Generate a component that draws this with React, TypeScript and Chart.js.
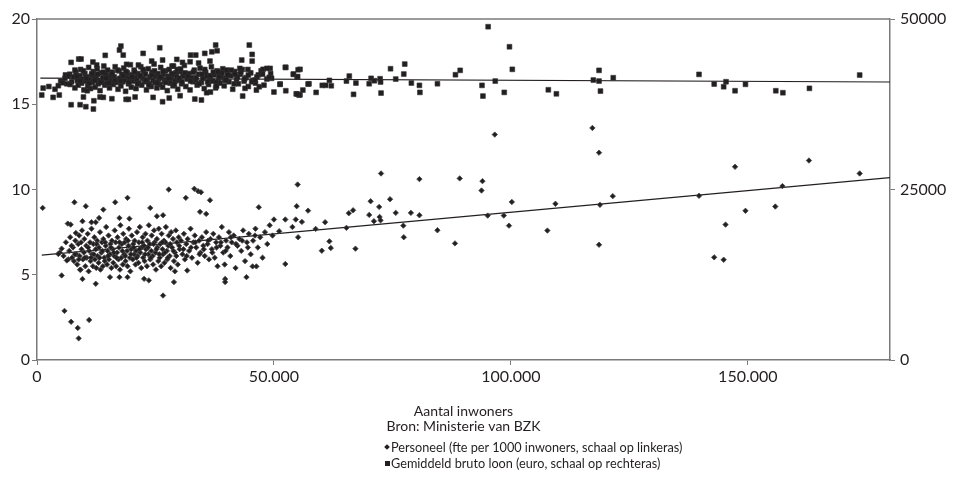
import React, { useEffect, useRef } from 'react';
import { Chart, registerables } from 'chart.js';

Chart.register(...registerables);

const FONT = 'Lato, "Open Sans", sans-serif';
const INK = '#231f20';
const AXIS = '#7a7a7a';

// Personeel (fte per 1000 inwoners) — left axis
const personeelSparse: [number, number][] = [
  [1200, 8.92], [4500, 6.22], [5200, 6.53], [5200, 4.96], [5800, 2.88], [6300, 5.84], [6500, 8.0], [7100, 7.94],
  [7200, 2.24], [7900, 9.25], [8200, 7.45], [8600, 1.88], [8800, 1.27], [10300, 9.02], [11000, 2.35], [9600, 8.14],
  [9600, 4.75], [9100, 5.29], [12400, 4.47], [11500, 8.08], [12400, 8.08], [13100, 8.33], [14000, 8.82], [16500, 9.25],
  [19100, 9.51], [17400, 8.33], [15400, 4.86], [17400, 4.86], [19100, 4.86], [19500, 8.29], [22600, 4.76], [23600, 4.67],
  [23900, 8.92], [25300, 8.43], [26600, 8.49], [26600, 3.78], [27800, 10.0], [28900, 4.57], [29100, 5.2], [31400, 9.51],
  [31700, 5.25], [33200, 10.04], [34000, 9.9], [34600, 9.84], [36500, 9.37], [34400, 8.69], [35700, 8.57], [39700, 4.75],
  [39700, 4.57], [44200, 4.86], [46800, 8.96], [45500, 5.49], [46300, 5.49], [50000, 8.24], [51100, 7.55], [52400, 8.24],
  [52400, 5.63], [53900, 7.8], [54800, 9.02], [54600, 8.24], [55100, 7.2], [55000, 10.29], [55900, 8.1], [57200, 8.76],
  [58800, 7.69], [60100, 6.41], [60800, 8.08], [61700, 6.96], [62000, 6.57], [65300, 7.75], [65800, 8.61], [66700, 8.78],
  [67200, 6.53], [70100, 8.51], [70400, 9.31], [71100, 8.14], [72200, 8.98], [72300, 8.39], [72500, 8.19], [72600, 10.94],
  [74500, 9.43], [75700, 8.63], [77300, 7.88], [77400, 7.2], [78900, 8.63], [80700, 8.49], [80700, 10.61], [84500, 7.61],
  [88200, 6.84], [89200, 10.65], [93800, 9.94], [94000, 10.49], [95100, 8.47], [98500, 8.47], [99600, 7.88], [100200, 9.27],
  [107700, 7.59], [109400, 9.16], [118600, 6.76], [118800, 9.1], [121500, 9.61], [96600, 13.22], [117200, 13.61],
  [118600, 12.16], [139700, 9.63], [142900, 6.02], [144900, 5.88], [145300, 7.94], [147300, 11.33], [149500, 8.75],
  [155800, 9.0], [157300, 10.2], [162900, 11.7], [173600, 10.94],
];

const personeelDense: [number, number][] = [
  [4800, 6.3], [5600, 6.1], [6100, 6.9], [6800, 6.4], [7000, 7.2], [7400, 6.0], [7600, 6.6], [7800, 5.8], [8100, 7.0],
  [8300, 6.2], [8500, 5.6], [8700, 6.8], [8900, 7.3], [9000, 6.1], [9200, 5.3], [9400, 6.5], [9500, 7.6], [9700, 5.9],
  [9900, 6.3], [10000, 7.1], [10200, 5.5], [10400, 6.7], [10500, 6.0], [10700, 7.4], [10900, 5.2], [11000, 6.4],
  [11200, 6.9], [11300, 5.8], [11500, 7.7], [11600, 6.2], [11800, 5.5], [11900, 6.8], [12100, 7.2], [12200, 5.9],
  [12400, 6.5], [12500, 5.4], [12700, 7.0], [12800, 6.1], [13000, 5.7], [13100, 6.6], [13300, 7.5], [13400, 5.3],
  [13600, 6.3], [13700, 6.9], [13900, 5.5], [14000, 7.1], [14200, 6.0], [14300, 5.8], [14500, 6.7], [14600, 7.8],
  [14800, 5.6], [14900, 6.4], [15100, 7.3], [15200, 5.9], [15400, 6.2], [15500, 6.8], [15700, 5.4], [15800, 7.0],
  [16000, 6.5], [16100, 5.7], [16300, 6.1], [16400, 7.6], [16600, 6.9], [16700, 5.5], [16900, 6.3], [17000, 7.2],
  [17200, 5.9], [17300, 6.6], [17500, 5.3], [17600, 7.9], [17800, 6.0], [17900, 6.8], [18100, 5.6], [18200, 7.4],
  [18400, 6.2], [18500, 6.9], [18700, 5.8], [18800, 7.1], [19000, 6.4], [19100, 5.5], [19300, 6.7], [19400, 7.7],
  [19600, 6.0], [19700, 5.2], [19900, 6.5], [20000, 7.3], [20200, 5.9], [20300, 6.8], [20500, 6.2], [20600, 7.0],
  [20800, 5.6], [20900, 6.4], [21100, 7.5], [21200, 6.1], [21400, 5.7], [21500, 6.9], [21700, 7.8], [21800, 6.3],
  [22000, 5.4], [22100, 6.6], [22300, 7.2], [22400, 6.0], [22600, 6.7], [22700, 5.8], [22900, 7.4], [23000, 6.5],
  [23200, 5.5], [23300, 7.0], [23500, 6.2], [23600, 7.9], [23800, 6.8], [23900, 5.9], [24100, 6.4], [24200, 7.3],
  [24400, 6.1], [24500, 5.6], [24700, 7.6], [24800, 6.9], [25000, 6.3], [25100, 5.3], [25300, 7.1], [25400, 6.6],
  [25600, 5.8], [25700, 7.7], [25900, 6.0], [26000, 6.8], [26200, 5.5], [26300, 7.4], [26500, 6.5], [26600, 6.2],
  [26800, 7.0], [26900, 5.7], [27100, 6.9], [27200, 7.8], [27400, 6.4], [27500, 5.9], [27700, 6.7], [27800, 7.3],
  [28000, 6.1], [28200, 5.4], [28300, 7.5], [28500, 6.6], [28700, 7.1], [28900, 5.8], [29100, 6.3], [29300, 7.6],
  [29500, 6.9], [29700, 5.6], [29900, 7.2], [30100, 6.5], [30400, 7.0], [30700, 6.2], [31000, 7.4], [31200, 5.9],
  [31500, 6.8], [31800, 7.1], [32100, 6.4], [32400, 7.7], [32700, 6.0], [33000, 6.9], [33300, 7.3], [33600, 6.6],
  [33900, 5.7], [34200, 7.0], [34500, 6.3], [34800, 7.2], [35100, 6.7], [35400, 6.1], [35700, 7.5], [36000, 6.8],
  [36300, 5.9], [36600, 7.1], [36900, 6.5], [37200, 7.4], [37500, 6.0], [37800, 6.9], [38100, 5.5], [38400, 7.2],
  [38700, 6.7], [39000, 7.8], [39300, 6.3], [39600, 5.6], [39900, 7.0], [40200, 6.6], [40500, 7.5], [40800, 6.1],
  [41100, 6.9], [41500, 7.3], [41900, 5.4], [42300, 6.7], [42700, 7.1], [43100, 6.4], [43500, 7.6], [43900, 5.8],
  [44300, 6.9], [44700, 7.4], [45100, 6.2], [45600, 7.0], [46100, 7.7], [46600, 6.6], [47100, 7.2], [47600, 6.0],
  [48100, 7.5], [48600, 6.8], [49100, 7.9], [49700, 7.3],
  [6600, 5.9], [7300, 6.7], [8000, 6.2], [8800, 5.9], [9300, 6.9], [10100, 6.0], [10800, 6.6], [11400, 6.0],
  [12000, 6.2], [12600, 6.8], [13200, 6.0], [13800, 6.4], [14400, 6.9], [15000, 6.1], [15600, 6.6], [16200, 6.3],
  [16800, 6.0], [17400, 6.9], [18000, 6.4], [18600, 6.1], [19200, 7.0], [19800, 6.2], [20400, 6.6], [21000, 6.0],
  [21600, 6.5], [22200, 6.9], [22800, 6.2], [23400, 6.6], [24000, 6.0], [24600, 6.8], [25200, 6.5], [25800, 6.2],
  [26400, 6.9], [27000, 6.3], [27600, 6.0], [28100, 6.8], [28800, 6.4], [29400, 6.1], [30000, 6.7], [30900, 6.5],
  [31600, 6.1], [32500, 6.6], [33400, 6.9], [34300, 6.2], [35200, 6.5], [36100, 7.0], [37000, 6.3], [37900, 6.6],
  [38800, 6.9], [39800, 6.4], [40900, 7.2], [42000, 6.8], [43300, 7.0], [44500, 6.6], [46000, 7.3],
];

// Gemiddeld bruto loon (euro) — right axis
const loonSparse: [number, number][] = [
  [95200, 48870], [99700, 45930], [100300, 42620], [55500, 42620], [57400, 40500], [56100, 39580], [55500, 38890],
  [58900, 39240], [60200, 40270], [60900, 40270], [62100, 40210], [61700, 41000], [65300, 40900], [65900, 41630],
  [67300, 40610], [66800, 38950], [70100, 40510], [70500, 41300], [71200, 40950], [72400, 41240], [72500, 40760],
  [72600, 39140], [74600, 42710], [75700, 41190], [77400, 41930], [77600, 43390], [79000, 40610], [80700, 40270],
  [80800, 39240], [84500, 40510], [88300, 41830], [89300, 42470], [93900, 40270], [94100, 38700], [96700, 40900],
  [98600, 39240], [107900, 39620], [109600, 39030], [117400, 41050], [118600, 42470], [118600, 40900], [118900, 39430],
  [121600, 41390], [139700, 41880], [142900, 40460], [144900, 40070], [145400, 40800], [147300, 39480], [149500, 40420],
  [155900, 39480], [157400, 39190], [163000, 39830], [173600, 41780], [52500, 42910], [55100, 42560], [54100, 41880],
  [54900, 41490], [49500, 41300], [49200, 42760], [51300, 40420], [50000, 39290], [52500, 39480], [54700, 39030],
  [55300, 38850], [1000, 38850], [1300, 39870], [3400, 38510], [4700, 38850], [4500, 40220], [5400, 40650],
  [6600, 41680], [7200, 43640], [7200, 37430], [8000, 42510], [8800, 44130], [9300, 44130], [9100, 37430],
  [10300, 37140], [11900, 36800], [9800, 38560], [10600, 39480], [12000, 38010], [11800, 43690], [12600, 43250],
  [14400, 44670], [17700, 46030], [17400, 45450], [18200, 44710], [18900, 43350], [13300, 38560], [14000, 38510],
  [15800, 38310], [18800, 38220], [19300, 38220], [20700, 38560], [22400, 44960], [21400, 43250], [24200, 43830],
  [25900, 45780], [26500, 43980], [24500, 38510], [26500, 37870], [27900, 38410], [28800, 43100], [29500, 44080],
  [30300, 42660], [30700, 43640], [32400, 44710], [33500, 44710], [32300, 43730], [34100, 43540], [33300, 38260],
  [34700, 38120], [30200, 38750], [35400, 44960], [36500, 43830], [36900, 45190], [37700, 46180], [38000, 45340],
  [38200, 42260], [36600, 39290], [35800, 39190], [37900, 40170], [40000, 42510], [39900, 41050], [41800, 41880],
  [42800, 42760], [43200, 43980], [43400, 38700], [43900, 39830], [44800, 46180], [45400, 44810], [45400, 43830],
  [44600, 41780], [46000, 41050], [46300, 39580], [46900, 40070], [47700, 42620], [48500, 42760], [49000, 41440],
  [51300, 40460], [52400, 42910], [54100, 41930], [55000, 41560], [54900, 39000], [57200, 40460],
];

const loonDense: [number, number][] = [
  [2500, 40100], [3800, 39700], [5000, 40900], [5900, 41300], [6300, 40500], [6900, 41900], [7300, 40800],
  [7700, 41500], [8000, 39900], [8200, 42200], [8500, 41000], [8700, 40300], [9000, 41700], [9200, 42600],
  [9400, 40600], [9600, 41200], [9900, 39600], [10100, 42000], [10300, 40900], [10500, 41500], [10700, 40200],
  [10900, 42900], [11100, 41100], [11300, 39800], [11500, 41800], [11700, 40700], [11900, 42300], [12100, 41300],
  [12300, 40000], [12500, 41600], [12700, 42700], [12900, 40500], [13100, 41000], [13300, 39500], [13500, 42100],
  [13700, 40800], [13900, 41400], [14100, 43100], [14300, 40300], [14500, 41900], [14700, 40600], [14900, 42500],
  [15100, 41200], [15300, 39900], [15500, 41700], [15700, 40900], [15900, 42200], [16100, 40400], [16300, 41500],
  [16500, 43000], [16700, 40700], [16900, 41100], [17100, 39700], [17300, 42400], [17500, 41300], [17700, 40200],
  [17900, 41900], [18100, 40800], [18300, 42800], [18500, 41000], [18700, 39400], [18900, 41600], [19100, 42100],
  [19300, 40500], [19500, 41200], [19700, 43300], [19900, 40000], [20100, 41800], [20300, 40900], [20500, 42500],
  [20700, 41400], [20900, 39800], [21100, 41000], [21300, 42000], [21500, 40600], [21700, 41600], [21900, 43000],
  [22100, 40300], [22300, 41300], [22500, 42300], [22700, 40800], [22900, 41900], [23100, 39600], [23300, 41100],
  [23500, 42700], [23700, 40500], [23900, 41500], [24100, 40100], [24300, 42200], [24500, 41000], [24700, 43400],
  [24900, 40700], [25100, 41700], [25300, 39900], [25500, 42000], [25700, 41200], [25900, 40400], [26100, 42900],
  [26300, 41400], [26500, 40000], [26700, 41900], [26900, 40800], [27100, 42400], [27300, 41100], [27500, 39500],
  [27700, 41600], [27900, 42600], [28100, 40600], [28300, 41300], [28500, 43100], [28700, 40200], [28900, 41800],
  [29100, 40900], [29300, 42100], [29500, 41500], [29700, 39700], [29900, 41000], [30200, 42300], [30500, 40500],
  [30800, 41700], [31100, 43200], [31400, 40100], [31700, 41200], [32000, 42000], [32300, 39600], [32600, 41400],
  [32900, 40800], [33200, 42500], [33500, 41000], [33800, 40300], [34100, 41900], [34400, 42800], [34700, 40700],
  [35000, 41300], [35300, 39800], [35600, 42200], [35900, 41600], [36200, 40400], [36500, 41100], [36800, 43000],
  [37100, 40900], [37400, 41800], [37700, 39900], [38000, 42400], [38300, 41000], [38600, 40600], [38900, 41500],
  [39200, 42700], [39500, 40200], [39800, 41300], [40100, 42000], [40500, 40800], [40900, 41700], [41300, 39700],
  [41700, 42300], [42100, 41100], [42500, 40500], [42900, 41900], [43300, 42600], [43700, 40900], [44100, 41400],
  [44600, 40100], [45100, 42100], [45600, 41000], [46100, 40600], [46700, 41800], [47300, 42400], [47900, 40300],
  [48500, 41200], [49300, 42000],
  [6000, 41800], [7000, 40400], [8400, 41600], [9100, 40900], [9800, 42400], [10400, 41300], [11000, 40600],
  [11600, 42000], [12200, 41000], [12800, 41900], [13400, 40700], [14000, 42200], [14600, 41300], [15200, 40600],
  [15800, 42000], [16400, 41000], [17000, 42500], [17600, 40900], [18200, 41700], [18800, 42300], [19400, 40700],
  [20000, 41500], [20600, 42200], [21200, 40500], [21800, 41700], [22400, 42600], [23000, 41000], [23600, 40300],
  [24200, 41800], [24800, 42400], [25400, 40600], [26000, 41500], [26600, 42300], [27200, 40700], [27800, 41300],
  [28400, 42000], [29000, 40400], [29600, 42600], [30000, 41300], [30600, 40800], [31200, 42100], [31800, 41600],
  [32400, 40900], [33000, 42200], [33600, 41400], [34200, 40500], [34800, 41900], [35400, 42600], [36000, 40800],
  [36600, 41700], [37200, 42200], [37800, 40700], [38400, 41600], [39000, 42100], [39600, 41000], [40300, 41800],
  [41000, 42500], [41600, 40500], [42300, 41500], [43000, 42200], [43800, 41200], [44500, 42600], [45300, 40800],
  [46400, 41500], [47600, 41900],
];

const personeelTrend: [number, number][] = [[1000, 6.15], [180000, 10.7]];
const loonTrend: [number, number][] = [[700, 41320], [180000, 40760]];

const xRange = [0, 180000];
const leftRange = [0, 20];
const rightRange = [0, 50000];
const xTicks = [0, 50000, 100000, 150000];
const leftTicks = [0, 5, 10, 15, 20];
const rightTicks = [0, 25000, 50000];

const xTitle = ['Aantal inwoners', 'Bron: Ministerie van BZK'];
const legendLabels = [
  'Personeel (fte per 1000 inwoners, schaal op linkeras)',
  'Gemiddeld bruto loon (euro, schaal op rechteras)',
];

const toXY = (arr: [number, number][]) => arr.map(([x, y]) => ({ x, y }));
const dotThousands = (v: number) => String(v).replace(/\B(?=(\d{3})+(?!\d))/g, '.');
const fixTicks = (values: number[]) => (s: any) => {
  s.ticks = values.map((value) => ({ value }));
};

const topBorder = {
  id: 'topBorder',
  afterDraw(chart: any) {
    const { ctx, chartArea } = chart;
    ctx.save();
    ctx.strokeStyle = AXIS;
    ctx.lineWidth = 1.5;
    ctx.beginPath();
    ctx.moveTo(chartArea.left, chartArea.top);
    ctx.lineTo(chartArea.right, chartArea.top);
    ctx.stroke();
    ctx.restore();
  },
};

export default function App() {
  const ref = useRef<HTMLCanvasElement | null>(null);

  useEffect(() => {
    document.body.style.margin = '0';
    const canvas = ref.current;
    if (!canvas) return;
    const tickFont = { family: FONT, size: 16 };
    const chart = new Chart(canvas, {
      type: 'scatter',
      data: {
        datasets: [
          {
            label: legendLabels[0],
            data: toXY([...personeelDense, ...personeelSparse]),
            yAxisID: 'y',
            pointStyle: 'rectRot',
            pointRadius: 2.7,
            backgroundColor: INK,
            borderColor: '#444',
            borderWidth: 0.8,
            order: 1,
          },
          {
            label: legendLabels[1],
            data: toXY([...loonDense, ...loonSparse]),
            yAxisID: 'y2',
            pointStyle: 'rect',
            pointRadius: 3.4,
            backgroundColor: INK,
            borderColor: '#333',
            borderWidth: 0.6,
            order: 1,
          },
          {
            type: 'line',
            label: 'trend personeel',
            data: toXY(personeelTrend),
            yAxisID: 'y',
            borderColor: INK,
            borderWidth: 1.2,
            pointRadius: 0,
            fill: false,
            order: 5,
          } as any,
          {
            type: 'line',
            label: 'trend loon',
            data: toXY(loonTrend),
            yAxisID: 'y2',
            borderColor: INK,
            borderWidth: 1.2,
            pointRadius: 0,
            fill: false,
            order: 5,
          } as any,
        ],
      },
      options: {
        responsive: false,
        animation: false,
        devicePixelRatio: 1,
        layout: { padding: { top: 19, left: 0, right: 0, bottom: 0 } },
        plugins: { legend: { display: false }, tooltip: { enabled: false } },
        scales: {
          x: {
            type: 'linear',
            position: 'bottom',
            min: xRange[0],
            max: xRange[1],
            afterBuildTicks: fixTicks(xTicks),
            ticks: {
              font: tickFont,
              color: INK,
              padding: 2,
              maxRotation: 0,
              autoSkip: false,
              callback: (v: any) => dotThousands(Number(v)),
            },
            grid: { display: true, drawOnChartArea: false, drawTicks: true, tickLength: 5, color: AXIS },
            border: { display: true, color: AXIS, width: 1.5 },
            title: {
              display: true,
              text: xTitle,
              color: INK,
              font: { family: FONT, size: 14, lineHeight: 15 / 14 },
              padding: { top: 0, bottom: 6 },
            },
            afterFit: (s: any) => { s.height = 80; },
          },
          y: {
            type: 'linear',
            position: 'left',
            min: leftRange[0],
            max: leftRange[1],
            afterBuildTicks: fixTicks(leftTicks),
            ticks: { font: tickFont, color: INK, padding: 2, autoSkip: false },
            grid: { display: true, drawOnChartArea: false, drawTicks: true, tickLength: 5, color: AXIS },
            border: { display: true, color: AXIS, width: 1.5 },
            afterFit: (s: any) => { s.width = 37; },
          },
          y2: {
            type: 'linear',
            position: 'right',
            min: rightRange[0],
            max: rightRange[1],
            afterBuildTicks: fixTicks(rightTicks),
            ticks: {
              font: tickFont,
              color: INK,
              padding: 5,
              autoSkip: false,
              callback: (v: any) => String(v),
            },
            grid: { display: true, drawOnChartArea: false, drawTicks: true, tickLength: 5, color: AXIS },
            border: { display: true, color: AXIS, width: 1.5 },
            afterFit: (s: any) => { s.width = 65; },
          },
        },
      } as any,
      plugins: [topBorder],
    });
    return () => chart.destroy();
  }, []);

  const legendRow = (marker: React.ReactNode, text: string) => (
    <div style={{ display: 'flex', alignItems: 'center', height: 16, whiteSpace: 'nowrap' }}>
      <span style={{ width: 8, display: 'inline-flex', justifyContent: 'center', alignItems: 'center' }}>{marker}</span>
      <span>{text}</span>
    </div>
  );

  return (
    <div style={{ position: 'relative', width: 955, height: 477, fontFamily: FONT, color: INK }}>
      <canvas ref={ref} width={955} height={440} style={{ display: 'block', width: 955, height: 440 }} />
      <div style={{ position: 'absolute', left: 383, top: 439, fontSize: 12.7, lineHeight: '16.5px' }}>
        {legendRow(
          <span style={{ width: 4, height: 4, background: INK, transform: 'rotate(45deg)', display: 'inline-block' }} />,
          legendLabels[0]
        )}
        {legendRow(
          <span style={{ width: 5, height: 5, background: INK, display: 'inline-block' }} />,
          legendLabels[1]
        )}
      </div>
    </div>
  );
}
